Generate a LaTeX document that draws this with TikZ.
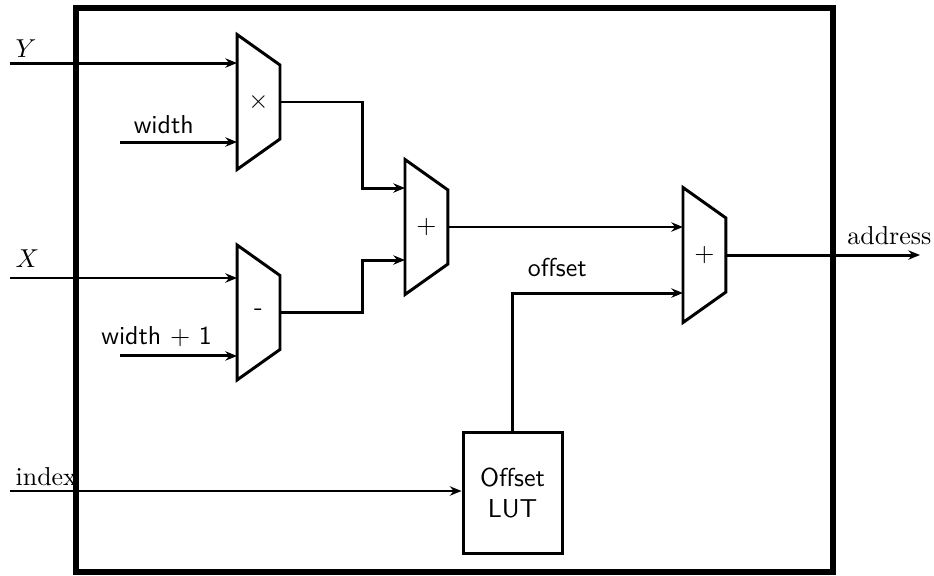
\documentclass[tikz,border=0pt]{standalone}
\usepackage{tikz}
\usetikzlibrary{positioning,arrows.meta}

% arithmetic block: name, left edge x, centre y, operator
\newcommand{\opblock}[4]{%
  \draw[blockline] (#2,#3+0.916) -- (#2+0.583,#3+0.502) -- (#2+0.583,#3-0.502)
    -- (#2,#3-0.916) -- cycle;
  \node[opsym] (#1) at (#2+0.29,#3) {#4};
  \coordinate (#1-w) at (#2,#3);
  \coordinate (#1-e) at (#2+0.583,#3);
}

\begin{document}
\begin{tikzpicture}[
    font=\sffamily,
    blockline/.style={line width=1.15pt, line join=miter},
    sig/.style={line width=1.15pt, -{Stealth[length=4.5pt,width=3.6pt]}},
    opsym/.style={inner sep=0pt},
    lbl/.style={inner sep=2pt},
    lutbox/.style={draw, line width=1.15pt, minimum width=1.343cm,
      minimum height=1.642cm, align=center},
  ]
  \useasboundingbox (0,0) rectangle (12.673,-7.815);

  % enclosing unit
  \draw[line width=2.3pt] (1.031,-0.109) rectangle (11.30,-7.76);

  % multiplier, subtractor and the two adders
  \opblock{mul}{3.216}{-1.384}{$\times$}
  \opblock{sub}{3.216}{-4.240}{-}
  \opblock{addA}{5.495}{-3.080}{$+$}
  \opblock{addB}{9.267}{-3.460}{$+$}

  % lookup table
  \node[lutbox] (lut) at (6.954,-6.683) {Offset\\LUT};

  % ports
  \coordinate (yin) at (0.136,-0.855);
  \coordinate (win) at (1.628,-1.927);
  \coordinate (xin) at (0.136,-3.772);
  \coordinate (w1in) at (1.628,-4.830);
  \coordinate (idx) at (0.136,-6.662);
  \coordinate (addr) at (12.483,-3.460);

  \draw[sig] (yin) -- (yin -| mul-w);
  \draw[sig] (win) -- (win -| mul-w);
  \draw[sig] (xin) -- (xin -| sub-w);
  \draw[sig] (w1in) -- (w1in -| sub-w);
  \draw[sig] (idx) -- (idx -| lut.west);

  \node[lbl, above right=0pt of yin] (lY) {$Y$};
  \node[lbl, above right=0.07cm and 0cm of xin] (lX) {$X$};
  \node[lbl, font=\rmfamily, above right=0pt of idx] (lidx) {index};
  \node[lbl, above right=0.03cm and 0.11cm of win] (lw) {width};
  \node[lbl, above right=0.05cm and -0.33cm of w1in] (lw1) {width $+$ 1};

  % internal wiring
  \coordinate (jA) at (4.925,-2.551);
  \coordinate (jB) at (4.925,-3.528);
  \coordinate (jC) at (6.954,-3.976);
  \draw[sig] (mul-e) -| (jA) -- (jA -| addA-w);
  \draw[sig] (sub-e) -| (jB) -- (jB -| addA-w);
  \draw[sig] (addA-e) -- (addA-e -| addB-w);
  \draw[sig] (lut.north) -- (jC) -- (jC -| addB-w);
  \node[lbl, above right=0.15cm and 0.13cm of jC] (loff) {offset};

  % result
  \draw[sig] (addB-e) -- (addr);
  \node[lbl, font=\rmfamily, above left=0.065cm and -0.23cm of addr] (laddr) {address};
\end{tikzpicture}
\end{document}
